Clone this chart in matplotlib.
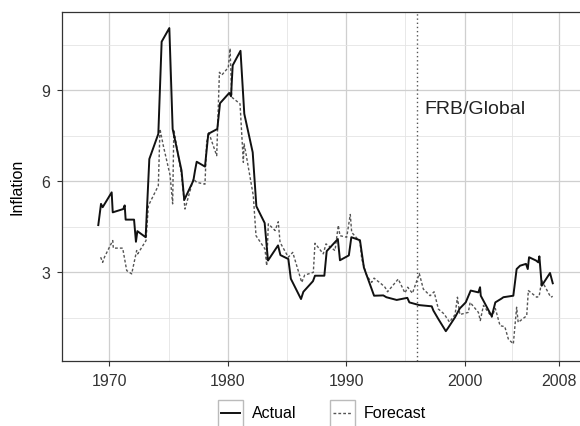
import matplotlib.pyplot as plt
from matplotlib.patches import Rectangle
from matplotlib.lines import Line2D

plt.rcParams['font.family'] = ['Liberation Sans', 'DejaVu Sans']

# Actual inflation (time in years, value in percent)
actual_t = [1969.07, 1969.3, 1969.44, 1970.2, 1970.29, 1971.18, 1971.3, 1971.38, 1972.09,
            1972.25, 1972.37, 1973.07, 1973.38, 1974.14, 1974.42, 1975.07, 1975.35, 1976.1,
            1976.33, 1977.1, 1977.24, 1977.38, 1978.08, 1978.36, 1979.12, 1979.35, 1980.13,
            1980.28, 1980.42, 1981.08, 1981.4, 1982.11, 1982.42, 1983.12, 1983.4, 1984.25,
            1984.45, 1985.12, 1985.33, 1986.19, 1986.39, 1987.2, 1987.37, 1988.16, 1988.36,
            1989.3, 1989.48, 1990.23, 1990.44, 1991.17, 1991.5, 1992.36, 1993.14, 1993.4,
            1994.27, 1995.17, 1995.34, 1996.18, 1997.23, 1997.37, 1997.79, 1998.42, 1998.6,
            1999.2, 1999.6, 2000.1, 2000.52, 2001.17, 2001.31, 2001.37, 2002.3, 2002.6,
            2003.14, 2003.28, 2004.12, 2004.4, 2004.69, 2005.19, 2005.34, 2005.45, 2006.04,
            2006.23, 2006.32, 2006.52, 2007.22, 2007.45]
actual_v = [4.55, 5.25, 5.14, 5.63, 4.97, 5.08, 5.2, 4.73, 4.73,
            4.0, 4.35, 4.15, 6.73, 7.56, 10.6, 11.05, 7.72, 6.35,
            5.38, 6.02, 6.35, 6.64, 6.48, 7.56, 7.72, 8.57, 8.91,
            8.8, 9.82, 10.3, 8.22, 6.95, 5.17, 4.62, 3.38, 3.88,
            3.56, 3.43, 2.78, 2.11, 2.35, 2.7, 2.88, 2.88, 3.69,
            4.09, 3.39, 3.55, 4.15, 4.05, 3.15, 2.22, 2.23, 2.17,
            2.08, 2.15, 2.0, 1.91, 1.87, 1.73, 1.45, 1.05, 1.15,
            1.51, 1.8, 2.0, 2.39, 2.33, 2.5, 2.22, 1.54, 2.0,
            2.13, 2.17, 2.22, 3.1, 3.21, 3.27, 3.1, 3.49, 3.38,
            3.32, 3.52, 2.55, 2.97, 2.63]

# FRB/Global forecast
forecast_t = [1969.27, 1969.44, 1969.6, 1970.29, 1970.34, 1971.13, 1971.47, 1971.89, 1972.31,
              1972.4, 1973.1, 1973.3, 1974.14, 1974.28, 1974.56, 1975.13, 1975.35, 1975.45,
              1976.1, 1976.39, 1977.1, 1977.38, 1978.08, 1978.22, 1978.4, 1979.07, 1979.3,
              1979.5, 1980.05, 1980.2, 1980.34, 1981.04, 1981.32, 1981.38, 1981.5, 1982.16,
              1982.39, 1983.15, 1983.29, 1983.43, 1984.0, 1984.27, 1984.42, 1985.12, 1985.49,
              1986.25, 1986.5, 1987.23, 1987.37, 1988.07, 1988.3, 1989.06, 1989.34, 1989.48,
              1990.05, 1990.35, 1990.47, 1991.17, 1991.32, 1991.74, 1992.16, 1992.36, 1993.0,
              1993.28, 1993.5, 1994.4, 1994.97, 1995.2, 1995.6, 1996.18, 1996.52, 1997.09,
              1997.43, 1997.79, 1998.27, 1998.73, 1999.2, 1999.4, 1999.6, 2000.32, 2000.47,
              2001.17, 2001.33, 2001.6, 2002.3, 2002.6, 2003.0, 2003.4, 2003.7, 2004.12,
              2004.4, 2004.53, 2005.25, 2005.39, 2006.1, 2006.3, 2006.52, 2007.28, 2007.45]
forecast_v = [3.49, 3.32, 3.5, 4.04, 3.79, 3.79, 3.05, 2.94, 3.71,
              3.6, 4.04, 5.19, 5.85, 7.72, 7.17, 6.2, 5.25, 7.7,
              6.2, 5.08, 6.07, 5.96, 5.9, 7.28, 7.6, 6.84, 9.59,
              9.5, 9.75, 10.38, 8.77, 8.55, 6.62, 7.23, 7.0, 5.52,
              4.2, 3.76, 3.21, 4.59, 4.37, 4.66, 3.98, 3.49, 3.65,
              2.66, 2.9, 2.99, 3.95, 3.6, 3.93, 3.71, 4.54, 4.2,
              4.15, 4.9, 4.31, 4.0, 3.43, 2.88, 2.66, 2.8, 2.6,
              2.5, 2.35, 2.77, 2.31, 2.5, 2.3, 2.95, 2.44, 2.22,
              2.35, 1.78, 1.62, 1.35, 1.6, 2.17, 1.6, 1.67, 2.0,
              1.67, 1.4, 1.9, 1.51, 1.8, 1.23, 1.2, 0.79, 0.63,
              1.84, 1.34, 1.56, 2.39, 2.17, 2.2, 2.72, 2.17, 2.2]

break_year = 1996
model_name = "FRB/Global"

W, H = 580, 427
fig = plt.figure(figsize=(W / 100, H / 100), dpi=100)
ax = fig.add_axes([61.7 / W, 1 - 361.7 / H, (582 - 61.7) / W, (361.7 - 13) / H])

ax.plot(actual_t, actual_v, color='#111111', lw=1.4, zorder=3)
ax.plot(forecast_t, forecast_v, color='#555555', lw=1.0, dashes=(2, 1.5), zorder=2)
ax.axvline(break_year, color='#555555', lw=1.0, ls=(0, (1, 2)), zorder=1)
ax.text(break_year + 0.65, 8.4, model_name, fontsize=14, color='#222222', va='center', ha='left')

ax.set_xlim(1965.98, 2009.92)
ax.set_ylim(0.076, 11.58)
ax.set_xticks([1970, 1980, 1990, 2000, 2008])
ax.set_xticks([1975, 1985, 1995, 2004], minor=True)
ax.set_yticks([3, 6, 9])
ax.set_yticks([1.5, 4.5, 7.5, 10.5], minor=True)
ax.grid(which='major', color='#cfcfcf', lw=0.9)
ax.grid(which='minor', color='#e4e4e4', lw=0.6)
ax.set_axisbelow(True)
ax.tick_params(which='major', length=3.5, width=0.8, color='#333333', labelsize=11.5,
               labelcolor='#333333', pad=5)
ax.tick_params(which='minor', length=0)
for s in ax.spines.values():
    s.set_color('#333333')
    s.set_linewidth(0.9)
ax.set_ylabel("Inflation", fontsize=11.5, labelpad=12)

# legend keys drawn like ggplot: boxed keys below the panel
entries = [("Actual", 217.5, dict(color='#111111', lw=1.4)),
           ("Forecast", 330, dict(color='#555555', lw=1.0, dashes=(2, 1.5)))]
for label, x0, style in entries:
    fig.patches.append(Rectangle((x0 / W, (H - 428) / H), 25 / W, 27 / H, transform=fig.transFigure,
                                 facecolor='white', edgecolor='#bbbbbb', lw=1.0))
    fig.lines.append(Line2D([(x0 + 3) / W, (x0 + 22) / W], [(H - 414) / H] * 2,
                            transform=fig.transFigure, **style))
    fig.text((x0 + 34) / W, (H - 414) / H, label, fontsize=11.5, va='center', ha='left')

fig.savefig("out.png", dpi=100)
